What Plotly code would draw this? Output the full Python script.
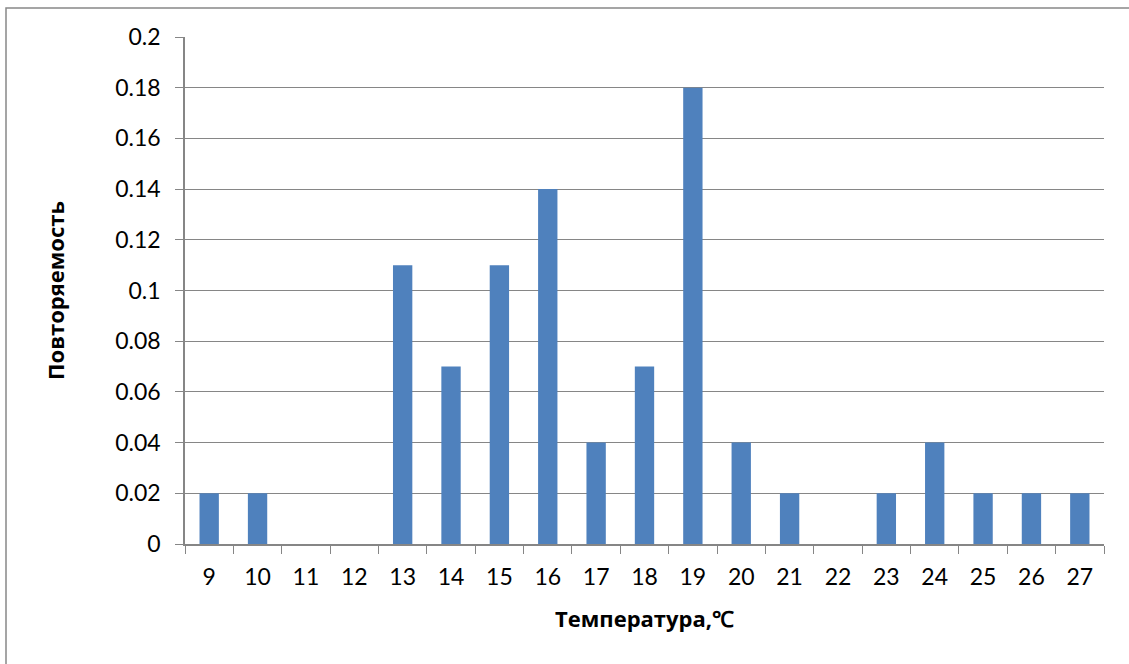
import plotly.graph_objects as go

temps = [str(t) for t in range(9, 28)]
freq = [0.02, 0.02, 0, 0, 0.11, 0.07, 0.11, 0.14, 0.04, 0.07, 0.18, 0.04, 0.02, 0, 0.02, 0.04, 0.02, 0.02, 0.02]
y_ticks = [0, 0.02, 0.04, 0.06, 0.08, 0.1, 0.12, 0.14, 0.16, 0.18, 0.2]
y_labels = ["0", "0.02", "0.04", "0.06", "0.08", "0.1", "0.12", "0.14", "0.16", "0.18", "0.2"]

fig = go.Figure(go.Bar(x=temps, y=freq, marker=dict(color="#4F81BD", line=dict(width=0)), width=0.4))

L, R, T, B = 185, 25, 37, 120
W, H = 1129, 664
pw, ph = W - L - R, H - T - B

fig.update_layout(
    width=W, height=H,
    margin=dict(l=L, r=R, t=T, b=B),
    plot_bgcolor="white", paper_bgcolor="white",
    font=dict(family="Lato, Liberation Sans, sans-serif", size=23, color="black"),
    showlegend=False,
    xaxis=dict(
        type="category", tickson="boundaries", ticks="outside", ticklen=8, tickcolor="#868686",
        showline=True, linecolor="#868686", linewidth=1.5, showgrid=False,
        ticklabelstandoff=12, tickfont=dict(size=23),
        title=dict(text="<b>Температура,℃</b>", font=dict(family="Open Sans, sans-serif", size=22), standoff=22),
    ),
    yaxis=dict(
        range=[0, 0.2], tickvals=y_ticks, ticktext=y_labels, ticks="outside", ticklen=8,
        tickcolor="#868686", showline=True, linecolor="#868686", linewidth=1.5,
        showgrid=True, gridcolor="#868686", gridwidth=1, zeroline=False,
        ticklabelstandoff=10, tickfont=dict(size=23),
        title=dict(text="<b>Повторяемость</b>", font=dict(family="Open Sans, sans-serif", size=22), standoff=44),
    ),
    shapes=[dict(
        type="rect", xref="paper", yref="paper",
        x0=(6 - L) / pw, x1=(1135 - L) / pw,
        y0=-(670 - (H - B)) / ph, y1=1 + (T - 8) / ph,
        line=dict(color="#888888", width=1.5), fillcolor="rgba(0,0,0,0)", layer="below",
    )],
)

fig.write_html("out.html")
